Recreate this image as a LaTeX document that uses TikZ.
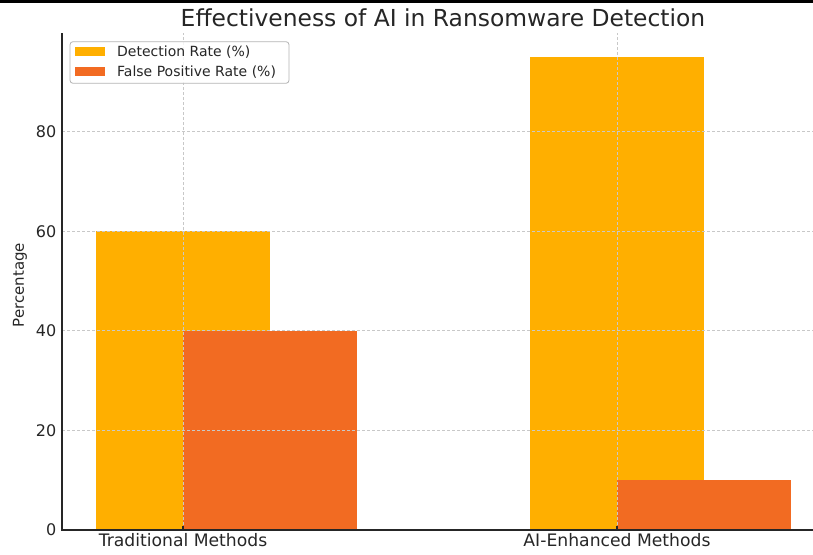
\documentclass[tikz,border=0pt]{standalone}
\usepackage{fontspec}
\setmainfont{DejaVu Sans}
\definecolor{detcol}{HTML}{FFAF00}
\definecolor{fpcol}{HTML}{F26B22}
\definecolor{gridcol}{HTML}{C8C8C8}
\definecolor{inkcol}{HTML}{262626}

\tikzset{
  axisline/.style={inkcol, line width=1.1pt},
  gridline/.style={gridcol, line width=0.8pt, dash pattern=on 3pt off 2pt},
  ticklabel/.style={inner sep=0pt, text=inkcol, font=\fontsize{16}{16}\selectfont},
  grouplabel/.style={ticklabel, anchor=base, font=\fontsize{17.2}{17.2}\selectfont},
  legendtext/.style={inner sep=0pt, anchor=west, text=inkcol, font=\fontsize{14}{14}\selectfont}
}

\begin{document}
\begin{tikzpicture}[x=1pt,y=1pt]
    \useasboundingbox (0,0) rectangle (813,554);
    \draw[line width=3pt] (0,552) -- (813,552);

    \node[inner sep=0pt, text=inkcol, font=\fontsize{23.4}{23.4}\selectfont] (title) at (443,536) {Effectiveness of AI in Ransomware Detection};

    \begin{scope}[x=434pt, y=4.98pt, shift={(183pt,24pt)}]
        % bars
        \foreach \xg/\det/\fp in {0/60/40, 1/95/10} {
            \fill[detcol] (\xg-0.2,0) rectangle (\xg+0.2,\det);
            \fill[fpcol] (\xg,0) rectangle (\xg+0.4,\fp);
        }
        % grid
        \foreach \v in {20,40,...,80}
            \draw[gridline] (-0.2788,\v) -- (1.4516,\v);
        \foreach \xg in {0,1}
            \draw[gridline] (\xg,0) -- (\xg,99.75);
        % axes
        \coordinate (origin) at (-0.2788,0);
        \coordinate (ytop) at (-0.2788,99.75);
        \coordinate (xend) at (1.4516,0);
        \draw[axisline] (ytop) -- (origin) -- (xend);
        \foreach \xg in {0,1}
            \draw[axisline] (\xg,0) -- (\xg,0.9);
        \foreach \v in {0,20,...,80}
            \node[ticklabel, anchor=east, xshift=-5.5pt] (ytick\v) at (-0.2788,\v) {\v};
        \node[grouplabel] (xtrad) at (0,-3.4) {Traditional Methods};
        \node[grouplabel] (xai) at (1,-3.4) {AI-Enhanced Methods};
    \end{scope}

    \node[inner sep=0pt, rotate=90, text=inkcol, font=\fontsize{15}{15}\selectfont] (ylabel) at (20,269) {Percentage};

    % legend
    \draw[gridcol!90!black, fill=white, fill opacity=0.8, rounded corners=3pt, line width=0.8pt] (70,512.3) rectangle (289,470.7);
    \fill[detcol] (75,507) rectangle (105,498);
    \fill[fpcol] (75,487) rectangle (105,478);
    \node[legendtext] (legdet) at (117,502.3) {Detection Rate (\%)};
    \node[legendtext] (legfp) at (117,482.3) {False Positive Rate (\%)};
\end{tikzpicture}
\end{document}
